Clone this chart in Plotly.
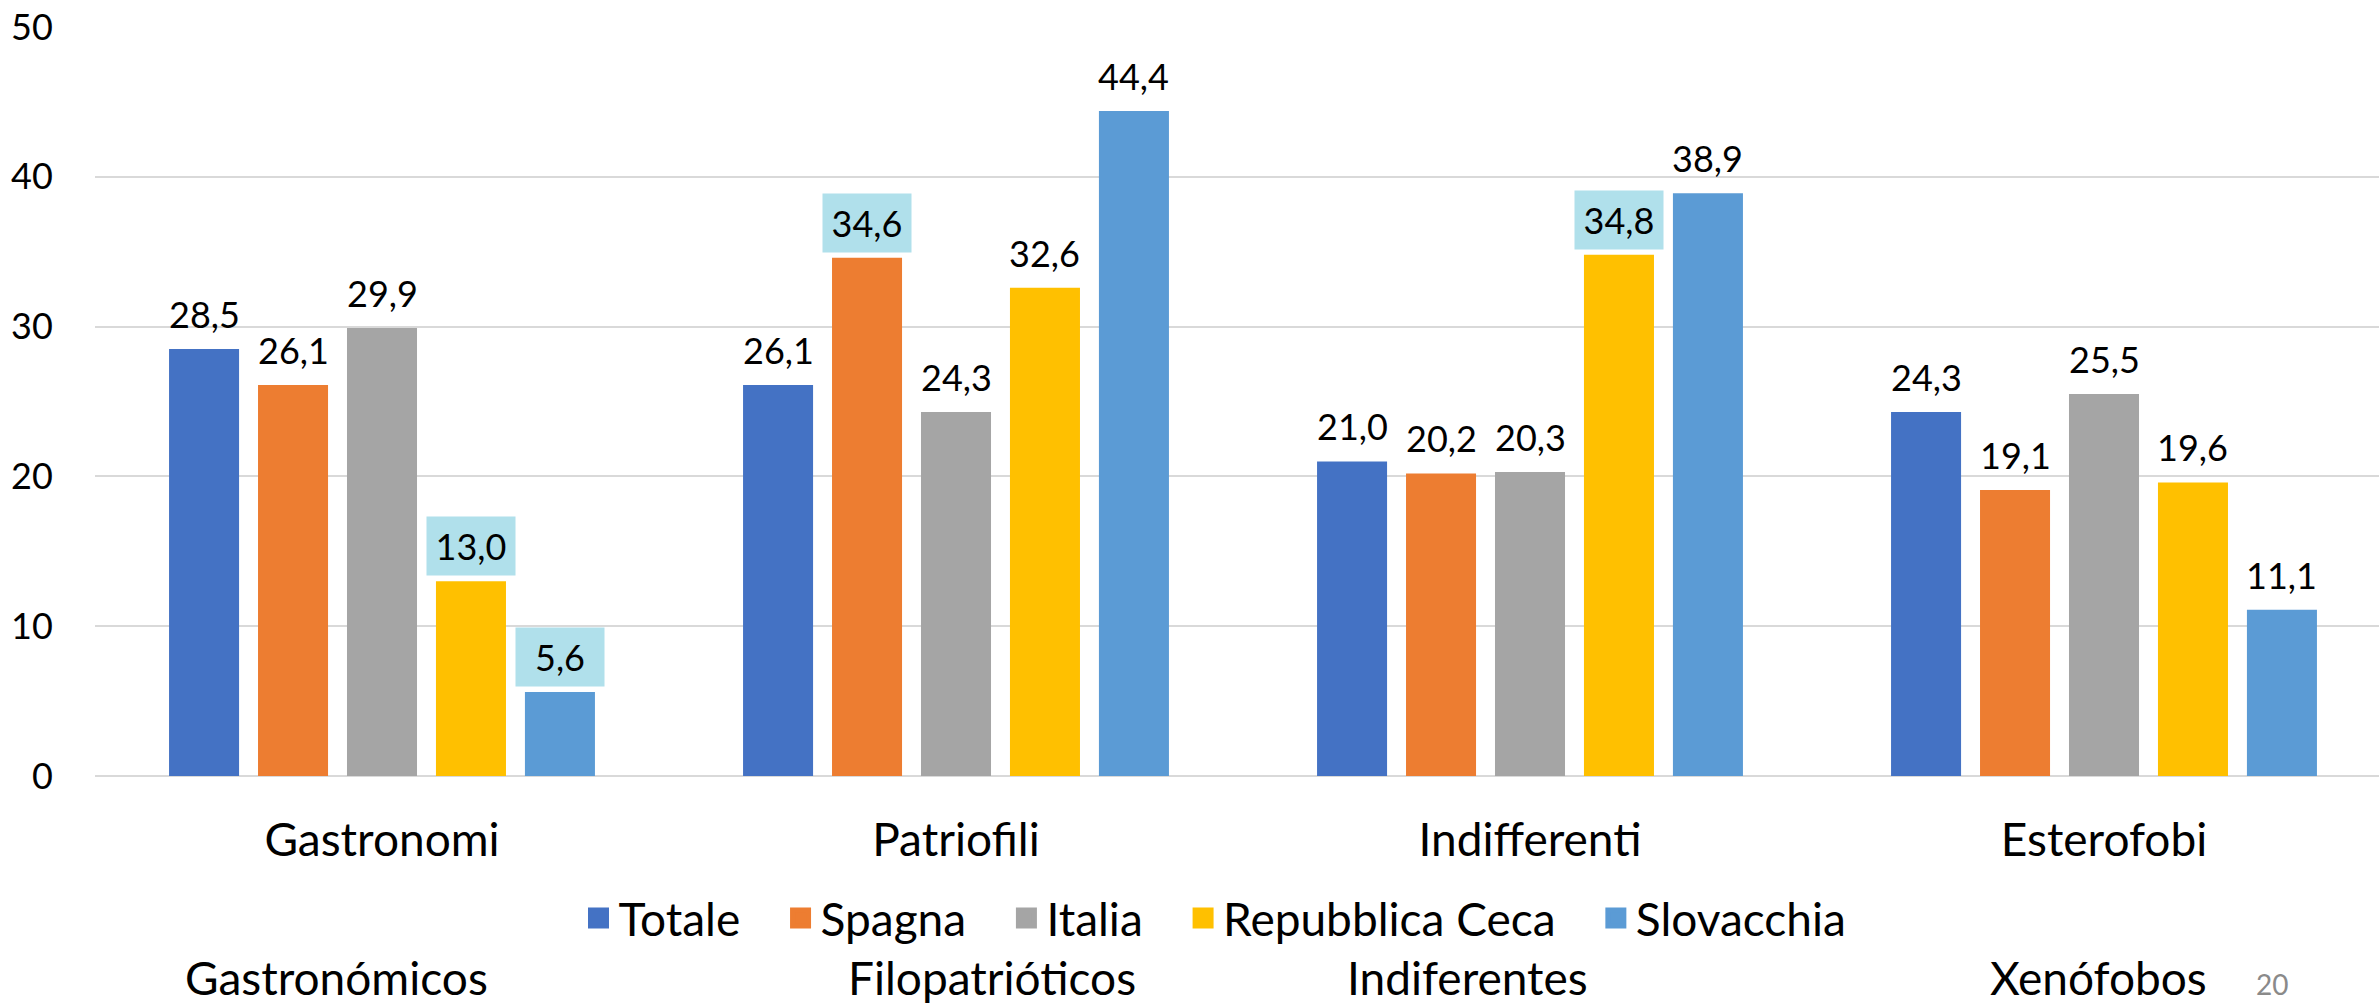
import plotly.graph_objects as go

categories = ["Gastronomi", "Patriofili", "Indifferenti", "Esterofobi"]
spanish_labels = ["Gastronómicos", "Filopatrióticos", "Indiferentes", "Xenófobos"]
series_names = ["Totale", "Spagna", "Italia", "Repubblica Ceca", "Slovacchia"]
totale = [28.5, 26.1, 21.0, 24.3]
spagna = [26.1, 34.6, 20.2, 19.1]
italia = [29.9, 24.3, 20.3, 25.5]
rep_ceca = [13.0, 32.6, 34.8, 19.6]
slovacchia = [5.6, 44.4, 38.9, 11.1]
# which data labels are highlighted (series index, category index)
highlighted = [(3, 0), (4, 0), (1, 1), (3, 2)]
y_ticks = [0, 10, 20, 30, 40, 50]
page_number = "20"

series_values = [totale, spagna, italia, rep_ceca, slovacchia]
colors = ["#4472C4", "#ED7D31", "#A5A5A5", "#FFC000", "#5B9BD5"]

W, H = 2379, 1007
ML, MR, MT, MB = 95, 0, 27, 231
plot_w = W - ML - MR
plot_h = H - MT - MB
cat_px = 574.0
x_hi = -0.5 + plot_w / cat_px

BARGAP = 0.225
BARGROUPGAP = 0.213
n = len(series_names)
slot = (1 - BARGAP) / n

FONT = "Lato"

fig = go.Figure()
for i, (name, vals, c) in enumerate(zip(series_names, series_values, colors)):
    fig.add_trace(go.Bar(x=categories, y=vals, name=name, marker=dict(color=c, line=dict(width=0)),
                         showlegend=False, hoverinfo="x+y+name"))
# legend entries (square swatches)
for k, (name, c) in enumerate(zip(series_names, colors)):
    pad = "\u00a0" * (3 if k < len(series_names) - 1 else 0)
    fig.add_trace(go.Scatter(x=[None], y=[None], mode="markers", name=name + pad,
                             marker=dict(symbol="square", size=16, color=c, line=dict(color=c, width=5)),
                             showlegend=True))

annotations = []
for i, vals in enumerate(series_values):
    for j, v in enumerate(vals):
        xpos = j + (i - (n - 1) / 2) * slot
        txt = f"{v:.1f}".replace(".", ",")
        a = dict(x=xpos, y=v, xref="x", yref="y", text=txt, showarrow=False,
                 yanchor="middle", xanchor="center", yshift=35,
                 font=dict(family=FONT, size=36, color="#000000"))
        if (i, j) in highlighted:
            a.update(bgcolor="#B0E0EB", width=86, height=56, borderpad=1)
        annotations.append(a)

def px_to_paper_x(px):
    return (px - ML) / plot_w

def py_to_paper_y(py):
    return (MT + plot_h - py) / plot_h

span_x_px = [336, 992, 1467, 2098]
for lbl, px in zip(spanish_labels, span_x_px):
    annotations.append(dict(x=px_to_paper_x(px), y=py_to_paper_y(977), xref="paper", yref="paper",
                            text=lbl, showarrow=False, xanchor="center", yanchor="middle",
                            font=dict(family=FONT, size=46, color="#000000")))
annotations.append(dict(x=px_to_paper_x(2272), y=py_to_paper_y(984), xref="paper", yref="paper",
                        text=page_number, showarrow=False, xanchor="center", yanchor="middle",
                        font=dict(family=FONT, size=28, color="#8A8A8A")))

fig.update_layout(
    width=W, height=H,
    margin=dict(l=ML, r=MR, t=MT, b=MB, pad=0, autoexpand=False),
    paper_bgcolor="white", plot_bgcolor="white",
    barmode="group", bargap=BARGAP, bargroupgap=BARGROUPGAP,
    font=dict(family=FONT, color="#000000"),
    xaxis=dict(range=[-0.5, x_hi], showgrid=False, showline=False, zeroline=False,
               ticks="outside", ticklen=24, tickcolor="rgba(0,0,0,0)",
               tickfont=dict(family=FONT, size=46, color="#000000"), fixedrange=True),
    yaxis=dict(range=[0, 50], tickvals=y_ticks, showgrid=True, gridcolor="#D9D9D9", gridwidth=2,
               zeroline=True, zerolinecolor="#D9D9D9", zerolinewidth=2, showline=False,
               ticks="outside", ticklen=34, tickcolor="rgba(0,0,0,0)",
               tickfont=dict(family=FONT, size=36, color="#000000"), fixedrange=True),
    legend=dict(orientation="h", x=px_to_paper_x(1215), y=py_to_paper_y(918),
                xanchor="center", yanchor="middle", itemsizing="trace",
                font=dict(family=FONT, size=46, color="#000000"), bgcolor="rgba(0,0,0,0)"),
    annotations=annotations,
    showlegend=True,
)

fig.write_html("out.html", config={"displayModeBar": False},
               post_script="document.body.style.margin='0';document.body.style.padding='0';document.body.style.overflow='hidden';")
